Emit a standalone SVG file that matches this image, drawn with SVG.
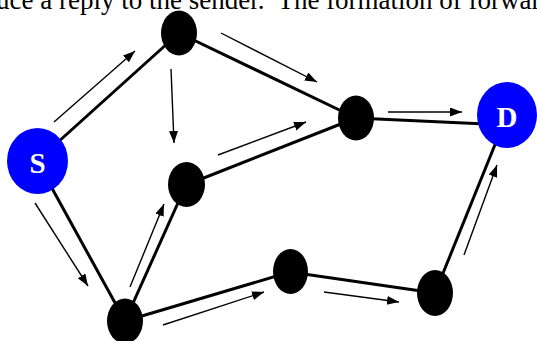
<svg xmlns="http://www.w3.org/2000/svg" width="537" height="341" viewBox="0 0 537 341">
<defs>
<marker id="ah" markerUnits="userSpaceOnUse" markerWidth="13" markerHeight="10" refX="12" refY="4.5" orient="auto">
<path d="M0,0 L12,4.5 L0,9 z" fill="#000"/>
</marker>
</defs>
<style>
.edge{stroke:#000;stroke-width:3;fill:none}
.arr{stroke:#000;stroke-width:1.4;fill:none;marker-end:url(#ah)}
.node{fill:#000}
.ep{fill:#0000ff}
.lbl{font-family:"Liberation Serif","Times New Roman",serif;font-weight:bold;font-size:29px;fill:#fff;text-anchor:middle}
.cap{font-family:"Liberation Serif","Times New Roman",serif;font-size:27px;fill:#000;white-space:pre}
</style>
<rect width="537" height="341" fill="#fff"/>
<text class="cap" x="-4" y="9" xml:space="preserve">uce a reply to the sender.  The formation of forward</text>
<g id="connectors">
<line class="edge" x1="37" y1="161" x2="179" y2="33"/>
<line class="edge" x1="179" y1="33" x2="356" y2="118"/>
<line class="edge" x1="356" y1="118" x2="507" y2="125"/>
<line class="edge" x1="37" y1="161" x2="125" y2="321"/>
<line class="edge" x1="125" y1="321" x2="186" y2="185"/>
<line class="edge" x1="186" y1="185" x2="356" y2="118"/>
<line class="edge" x1="125" y1="321" x2="290" y2="272"/>
<line class="edge" x1="290" y1="272" x2="435" y2="293"/>
<line class="edge" x1="435" y1="293" x2="507" y2="115"/>
<line class="arr" x1="54" y1="122" x2="135" y2="51"/>
<line class="arr" x1="221" y1="33" x2="317" y2="82"/>
<line class="arr" x1="171" y1="69" x2="174" y2="143"/>
<line class="arr" x1="218" y1="155" x2="306" y2="122"/>
<line class="arr" x1="388" y1="112" x2="462" y2="112"/>
<line class="arr" x1="35" y1="203" x2="88" y2="286"/>
<line class="arr" x1="130" y1="287" x2="164" y2="204"/>
<line class="arr" x1="163" y1="325" x2="264" y2="292"/>
<line class="arr" x1="324" y1="292" x2="399" y2="302"/>
<line class="arr" x1="464" y1="255" x2="497" y2="165"/>
</g>
<g id="S"><ellipse class="ep" cx="37.5" cy="161" rx="30.5" ry="33"/><text class="lbl" x="37.5" y="173">S</text></g>
<g id="D"><ellipse class="ep" cx="507" cy="115" rx="30" ry="33"/><text class="lbl" x="507" y="127">D</text></g>
<g id="n1"><ellipse class="node" cx="179" cy="33" rx="18" ry="22.5"/></g>
<g id="n2"><ellipse class="node" cx="356" cy="118" rx="18" ry="22.5"/></g>
<g id="n3"><ellipse class="node" cx="186.5" cy="184.5" rx="18.5" ry="22.5"/></g>
<g id="n4"><ellipse class="node" cx="125" cy="321" rx="18" ry="22.5"/></g>
<g id="n5"><ellipse class="node" cx="290.5" cy="271.5" rx="17.5" ry="22.5"/></g>
<g id="n6"><ellipse class="node" cx="435" cy="293" rx="18" ry="23"/></g>
</svg>
